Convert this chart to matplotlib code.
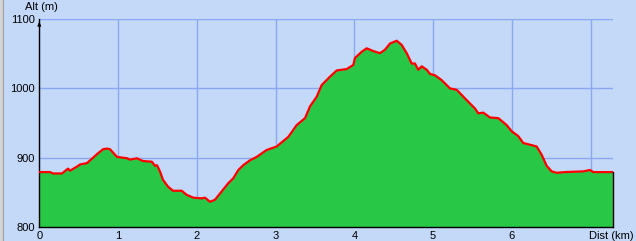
import numpy as np
import matplotlib.pyplot as plt
from matplotlib.patches import Rectangle

# elevation profile
dist_km = [0.00, 0.136, 0.174, 0.288, 0.364, 0.390, 0.479, 0.517, 0.606, 0.733,
           0.809, 0.860, 0.898, 0.986, 1.114, 1.152, 1.240, 1.316, 1.430, 1.469,
           1.494, 1.532, 1.570, 1.634, 1.697, 1.808, 1.872, 1.955, 2.062, 2.104,
           2.167, 2.231, 2.294, 2.400, 2.463, 2.527, 2.590, 2.675, 2.760, 2.887,
           3.014, 3.162, 3.268, 3.374, 3.437, 3.522, 3.586, 3.691, 3.776, 3.903,
           3.987, 4.008, 4.093, 4.157, 4.241, 4.326, 4.389, 4.453, 4.538, 4.601,
           4.665, 4.728, 4.770, 4.812, 4.855, 4.919, 4.961, 5.024, 5.109, 5.215,
           5.300, 5.427, 5.532, 5.574, 5.638, 5.722, 5.828, 5.934, 5.998, 6.082,
           6.145, 6.252, 6.315, 6.379, 6.442, 6.506, 6.570, 6.675, 6.907, 6.992,
           7.034, 7.288]
alt_m = [879, 879, 877, 877, 884, 881, 887, 890, 892, 905,
         912, 913, 912, 901, 899, 897, 899, 895, 894, 888,
         889, 880, 868, 858, 852, 852, 846, 842, 841, 842,
         836, 839, 848, 863, 870, 882, 889, 896, 901, 911,
         916, 930, 947, 957, 974, 988, 1005, 1017, 1026, 1028,
         1034, 1044, 1053, 1058, 1054, 1051, 1056, 1065, 1069, 1063,
         1051, 1036, 1036, 1027, 1032, 1027, 1021, 1019, 1012, 1000,
         998, 983, 971, 964, 965, 958, 957, 947, 938, 931,
         921, 918, 916, 904, 888, 880, 878, 879, 880, 882,
         879, 879]

x_ticks = [0, 1, 2, 3, 4, 5, 6, 7]
y_ticks = [800, 900, 1000, 1100]

BG = '#c4d8f8'
GRID = '#8aa8f2'
GREEN = '#28c846'

plt.rcParams['font.family'] = ['Liberation Sans', 'DejaVu Sans']

W, H = 636, 241
fig = plt.figure(figsize=(W / 100, H / 100), dpi=100)
fig.patch.set_facecolor(BG)

# grey strip on the left edge
fig.patches.append(Rectangle((0, 0), 3 / W, 1, transform=fig.transFigure,
                             facecolor='#d4d4d4', edgecolor='none'))
fig.lines.append(plt.Line2D([3.5 / W, 3.5 / W], [0, 1], transform=fig.transFigure,
                            color='#a0a0a0', lw=0.8))

x0, x1 = 39.3, 613.3
y_top, y_bot = 19.3, 226.7
ax = fig.add_axes([x0 / W, (H - y_bot) / H, (x1 - x0) / W, (y_bot - y_top) / H])
ax.set_facecolor(BG)
ax.set_xlim(0, dist_km[-1])
ax.set_ylim(800, 1100)

ax.set_xticks(x_ticks)
ax.set_yticks(y_ticks)
ax.tick_params(length=0, labelsize=8, pad=3)
ax.grid(True, color=GRID, lw=1.0)
ax.set_axisbelow(True)

for s in ['top', 'right']:
    ax.spines[s].set_visible(False)
for s in ['left', 'bottom']:
    ax.spines[s].set_color('black')
    ax.spines[s].set_linewidth(1.0)

ax.fill_between(dist_km, alt_m, 800, color=GREEN, lw=0, zorder=2)
ax.plot(dist_km, alt_m, color='red', lw=1.6, zorder=3)
ax.plot([dist_km[-1], dist_km[-1]], [800, alt_m[-1]], color='black', lw=1.0,
        zorder=3, clip_on=False)

# little arrow head at the top of the altitude axis
ax.annotate('', xy=(0, 1100), xytext=(0, 1090),
            arrowprops=dict(arrowstyle='-|>', color='black', lw=0.8,
                            mutation_scale=5), annotation_clip=False)

fig.text(25 / W, 1 - 7 / H, 'Alt (m)', fontsize=8, va='center', ha='left')
fig.text(634 / W, 1 - 236 / H, 'Dist (km)', fontsize=8, va='center', ha='right')
labels = [str(t) for t in x_ticks]
labels[-1] = ''
ax.set_xticklabels(labels)

fig.savefig('out.png', dpi=100, facecolor=BG)
